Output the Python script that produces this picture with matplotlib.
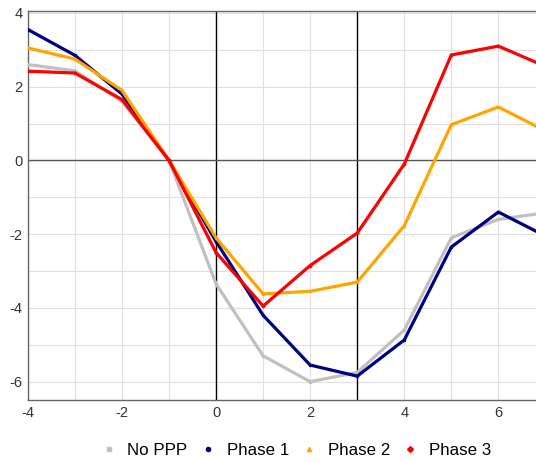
import numpy as np
import matplotlib
matplotlib.use("Agg")
import matplotlib.pyplot as plt
from matplotlib.ticker import MultipleLocator

plt.rcParams["font.family"] = ["Liberation Sans", "DejaVu Sans"]
plt.rcParams["axes.unicode_minus"] = False

# === Data ===
x = [-4, -3, -2, -1, 0, 1, 2, 3, 4, 5, 6, 7]
no_ppp = [2.6, 2.43, 1.6, 0, -3.35, -5.3, -6.0, -5.75, -4.6, -2.1, -1.6, -1.42]
phase1 = [3.55, 2.85, 1.8, 0, -2.2, -4.2, -5.55, -5.85, -4.87, -2.35, -1.4, -2.05]
phase2 = [3.05, 2.75, 1.9, 0, -2.1, -3.62, -3.55, -3.3, -1.77, 0.97, 1.45, 0.8]
phase3 = [2.42, 2.37, 1.65, 0, -2.5, -3.95, -2.85, -1.97, -0.1, 2.86, 3.1, 2.55]

series = [
    ("No PPP", no_ppp, "#c0c0c0", "s"),
    ("Phase 1", phase1, "#000080", "o"),
    ("Phase 2", phase2, "#ffa500", "^"),
    ("Phase 3", phase3, "#ff0000", "D"),
]

# === Plot ===
fig = plt.figure(figsize=(5.36, 4.62), dpi=100)
ax = fig.add_axes([0.052, 0.134, 0.948, 0.842])

for label, vals, color, marker in series:
    ax.plot(x, vals, color=color, lw=2.3, marker=marker, ms=1.5,
            label=label, zorder=3)

ax.axvline(0, color="black", lw=1, zorder=2)
ax.axvline(3, color="black", lw=1, zorder=2)
ax.axhline(0, color="#555555", lw=1, zorder=2)

ax.set_xlim(-4, 6.8)
ax.set_ylim(-6.5, 4.05)
ax.xaxis.set_major_locator(MultipleLocator(2))
ax.xaxis.set_minor_locator(MultipleLocator(1))
ax.yaxis.set_major_locator(MultipleLocator(2))
ax.yaxis.set_minor_locator(MultipleLocator(1))
ax.grid(True, which="both", color="#e0e0e0", lw=0.8, zorder=0)
ax.tick_params(which="both", length=0, labelsize=10.5, colors="#333333", pad=4)

ax.spines["right"].set_visible(False)
for side in ["top", "left", "bottom"]:
    ax.spines[side].set_color("#666666")
    ax.spines[side].set_linewidth(1)

handles = [plt.Line2D([], [], ls="none", marker=m, color=c, ms=3)
           for _, _, c, m in series]
fig.legend(handles, [s[0] for s in series], loc="lower center",
           bbox_to_anchor=(0.552, -0.025), ncol=4, frameon=False,
           fontsize=12.2, handletextpad=0.6, columnspacing=0.7,
           handlelength=1.0)

fig.savefig("out.png", dpi=100)
